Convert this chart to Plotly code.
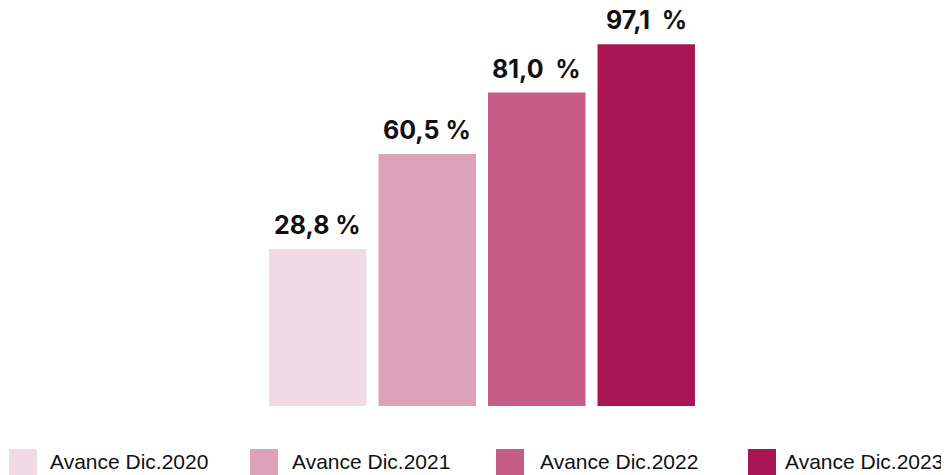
import plotly.graph_objects as go

# ---- data ----
categories = ["Avance Dic.2020", "Avance Dic.2021", "Avance Dic.2022", "Avance Dic.2023"]
values = [28.8, 60.5, 81.0, 97.1]
value_labels = ["28,8 %", "60,5 %", "81,0  %", "97,1  %"]
colors = ["#F2DAE4", "#DEA1BA", "#C45C87", "#A81552"]

# ---- layout constants ----
W, H = 949, 475
PAGE_OFF = 8          # default body margin of the html page
PLOT_LEFT_REF, PLOT_RIGHT_REF, PLOT_BOTTOM_REF = 263, 701, 406
ML = PLOT_LEFT_REF - PAGE_OFF
MR = W - (PLOT_RIGHT_REF - PAGE_OFF)
MT = 0
MB = H - (PLOT_BOTTOM_REF - PAGE_OFF)
BASE = -23.5          # hidden axis baseline of the drawn bars
PX_PER_UNIT = 3.0
PLOT_H = H - MT - MB
PLOT_W = W - ML - MR
Y_TOP = BASE + PLOT_H / PX_PER_UNIT

def px_to_paper_x(px):
    return (px - PAGE_OFF - ML) / PLOT_W

def px_to_paper_y(py):
    return (H - MB - (py - PAGE_OFF)) / PLOT_H

fig = go.Figure()
for i, (name, v, c) in enumerate(zip(categories, values, colors)):
    fig.add_trace(go.Bar(
        x=[i], y=[v - BASE], base=[BASE], name=name,
        marker=dict(color=c, line=dict(width=0)),
        width=0.89, showlegend=False,
        hovertemplate=f"{name}: {v}%<extra></extra>",
    ))
    fig.add_annotation(
        x=i, y=v, xref="x", yref="y", yanchor="bottom", xanchor="center",
        text=value_labels[i].replace(" ", "\u00a0"), showarrow=False, yshift=7,
        font=dict(family="Inter", size=25, color="#111111", weight=700),
    )

# manual legend (large square swatches)
sw_left = [9, 250, 496, 748]
txt_left = [48, 290, 538, 783]
sw_top, sw_size, txt_mid = 449, 28, 461
for i, (name, c) in enumerate(zip(categories, colors)):
    fig.add_shape(
        type="rect", xref="paper", yref="paper",
        x0=px_to_paper_x(sw_left[i]), x1=px_to_paper_x(sw_left[i] + sw_size),
        y0=px_to_paper_y(sw_top + sw_size), y1=px_to_paper_y(sw_top),
        fillcolor=c, line=dict(width=0),
    )
    fig.add_annotation(
        x=px_to_paper_x(txt_left[i]), y=px_to_paper_y(txt_mid), xref="paper", yref="paper",
        xanchor="left", yanchor="middle", text=name, showarrow=False,
        font=dict(family="Liberation Sans", size=21, color="#111111"),
    )

fig.update_layout(
    width=W, height=H,
    margin=dict(l=ML, r=MR, t=MT, b=MB),
    paper_bgcolor="white", plot_bgcolor="white",
    barmode="overlay",
    xaxis=dict(range=[-0.5, 3.5], visible=False, fixedrange=True),
    yaxis=dict(range=[BASE, Y_TOP], visible=False, fixedrange=True),
    showlegend=False,
)

fig.write_html("out.html")
